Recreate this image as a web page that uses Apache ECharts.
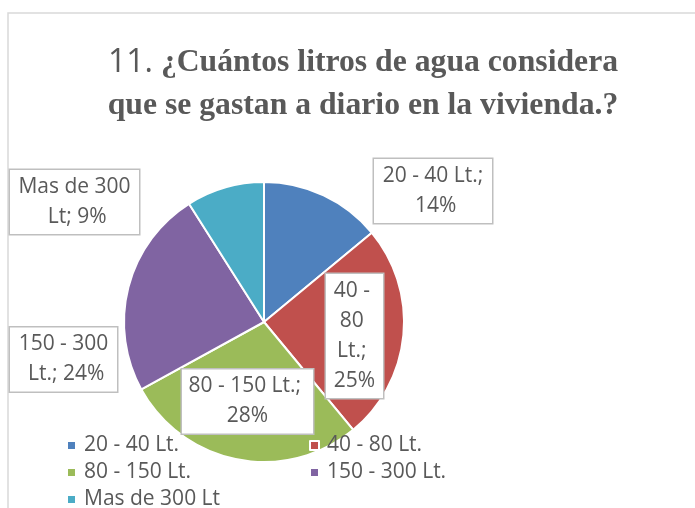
<!DOCTYPE html>
<html>
<head>
<meta charset="utf-8">
<script src="https://cdn.jsdelivr.net/npm/echarts@6/dist/echarts.min.js"></script>
<style>
    html, body { margin: 0; padding: 0; background: #fff; }
    #chart { width: 695px; height: 508px; }
</style>
</head>
<body>
<div id="chart"></div>
<script>
//datos del grafico
var categorias = ['20 - 40 Lt.', '40 - 80 Lt.', '80 - 150 Lt.', '150 - 300 Lt.', 'Mas de 300 Lt'];
var etiquetas = ['20 - 40 Lt.', '40 - 80 Lt.', '80 - 150 Lt.', '150 - 300 Lt.', 'Mas de 300 Lt'];
var porcentajes = [14, 25, 28, 24, 9];
var colores = ['#4f81bd', '#c0504d', '#9bbb59', '#8064a2', '#4bacc6'];

//posicion de las etiquetas (centro de cada cuadro) y ancho del cuadro
var posEtiquetas = [[433, 191], [354.5, 336], [247.5, 401.5], [63.5, 359.5], [74.5, 202]];
var anchoEtiquetas = [118, 57, 131, 107, 129];

var chart = echarts.init(document.getElementById('chart'));

var datos = [];
for (var i = 0; i < categorias.length; i++) {
    datos.push({
        name: categorias[i],
        value: porcentajes[i],
        itemStyle: { color: colores[i] },
        label: { width: anchoEtiquetas[i] - 12 }
    });
}

var textoLeyenda = { fontFamily: 'Open Sans', fontSize: 21, color: '#595959', lineHeight: 27, padding: [0, 0, 0, 3] };

var option = {
    backgroundColor: '#fff',
    animation: false,
    graphic: [{
        type: 'rect',
        shape: { x: 8, y: 13, width: 700, height: 510 },
        style: { fill: 'none', stroke: '#d9d9d9', lineWidth: 1.5 },
        z: -10
    }],
    title: {
        text: '{a|11.}{b| ¿Cuántos litros de agua considera}\n{b|que se gastan a diario en la vivienda.?}',
        left: 358,
        top: 36,
        textAlign: 'center',
        textStyle: {
            rich: {
                a: { fontFamily: 'Open Sans', fontWeight: 'normal', fontSize: 32, color: '#595959', lineHeight: 43 },
                b: { fontFamily: 'Liberation Serif', fontWeight: 'bold', fontSize: 31.7, color: '#595959', lineHeight: 43 }
            }
        }
    },
    legend: [{
        data: [categorias[0], categorias[2], categorias[4]],
        orient: 'vertical',
        left: 66,
        top: 432,
        height: 120,
        padding: 0,
        itemWidth: 9,
        itemHeight: 9,
        itemGap: 0,
        icon: 'rect',
        textStyle: textoLeyenda
    }, {
        data: [categorias[1], categorias[3]],
        orient: 'vertical',
        left: 309,
        top: 432,
        height: 120,
        padding: 0,
        itemWidth: 9,
        itemHeight: 9,
        itemGap: 0,
        icon: 'rect',
        textStyle: textoLeyenda
    }],
    series: [{
        type: 'pie',
        center: [264, 322],
        radius: [0, 140],
        startAngle: 90,
        clockwise: true,
        itemStyle: { borderColor: '#fff', borderWidth: 2 },
        label: {
            show: true,
            position: 'inside',
            formatter: function (p) {
                return etiquetas[p.dataIndex] + '; ' + p.value + '%';
            },
            fontFamily: 'Open Sans',
            fontSize: 21,
            lineHeight: 30,
            color: '#595959',
            backgroundColor: '#fff',
            borderColor: '#bfbfbf',
            borderWidth: 1.5,
            padding: [3, 6, 1, 6],
            align: 'center',
            overflow: 'break'
        },
        labelLine: { show: false },
        labelLayout: function (params) {
            var p = posEtiquetas[params.dataIndex];
            return { x: p[0], y: p[1], align: 'center', verticalAlign: 'middle' };
        },
        data: datos
    }]
};
chart.setOption(option);
</script>
</body>
</html>
